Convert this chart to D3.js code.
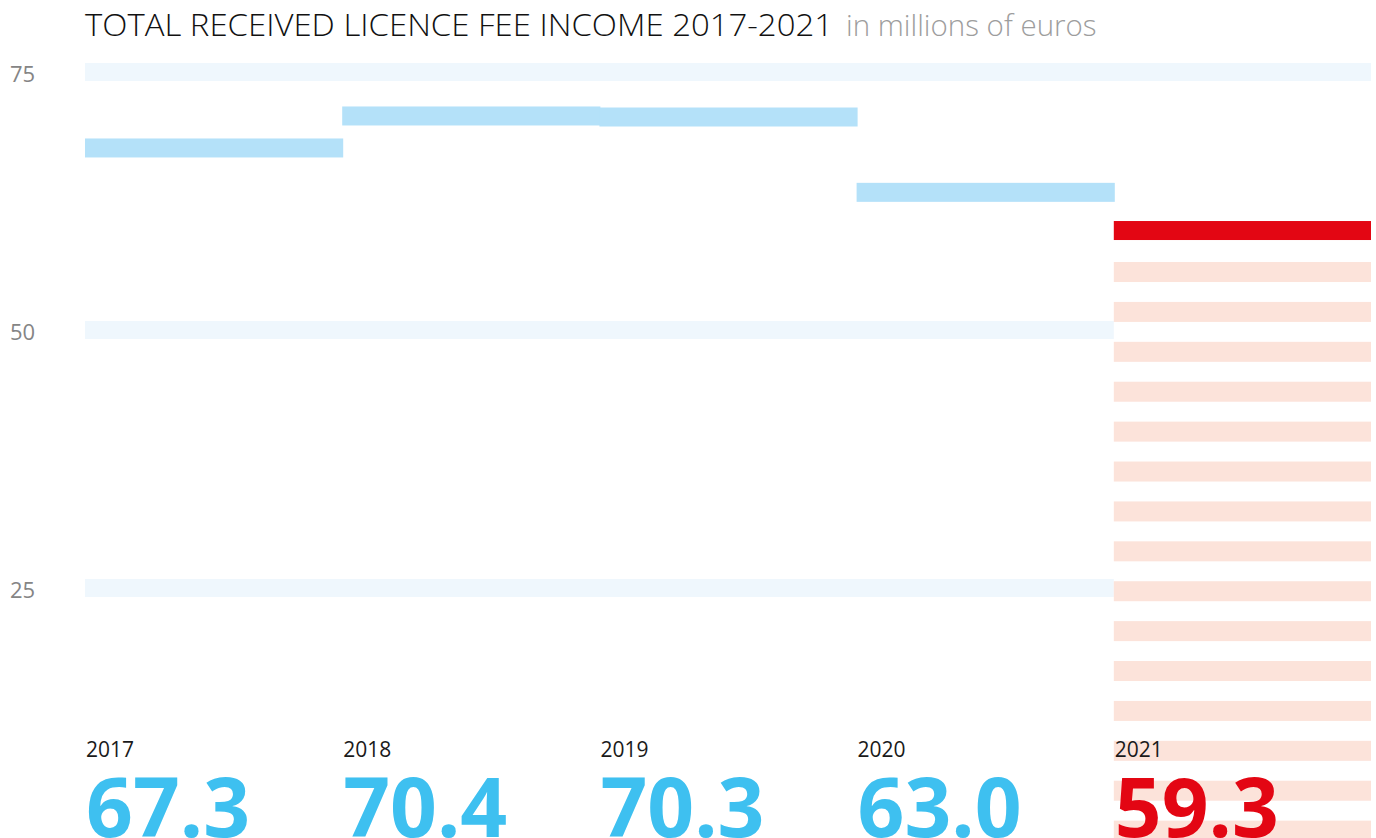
<!DOCTYPE html>
<meta charset="utf-8">
<style>
body {
  margin: 0;
  background-color: #ffffff;
}
svg text {
  font-family: "Open Sans", sans-serif;
}
</style>
<body>
<script src="https://d3js.org/d3.v7.min.js"></script>
<script>
  // data
  var years = ["2017", "2018", "2019", "2020", "2021"];
  var income = [67.3, 70.4, 70.3, 63.0, 59.3];
  var valueLabels = ["67.3", "70.4", "70.3", "63.0", "59.3"];
  var yTicks = [75, 50, 25];

  var width = 1376, height = 838;
  var blue = "#b4e1f9", red = "#e30613";

  var svg = d3.select("body").append("svg")
      .attr("width", width)
      .attr("height", height);

  // scales
  var x = d3.scaleBand()
      .domain(years)
      .range([85, 1371])
      .padding(0);
  var y = d3.scaleLinear()
      .domain([0, 75])
      .range([846, 72]);

  var barH = 19, bandH = 18;
  var last = years[years.length - 1];

  // light gridline bands
  svg.selectAll(".grid")
      .data(yTicks)
    .enter().append("rect")
      .attr("class", "grid")
      .attr("x", x.range()[0])
      .attr("width", x.range()[1] - x.range()[0])
      .attr("y", function(d) { return y(d) - bandH / 2; })
      .attr("height", bandH)
      .attr("fill", "#eff7fd");

  // tick labels
  svg.selectAll(".tick")
      .data(yTicks)
    .enter().append("text")
      .attr("class", "tick")
      .attr("x", 10)
      .attr("y", function(d) { return y(d) + 10; })
      .attr("font-size", 22)
      .attr("fill", "#858585")
      .text(function(d) { return d; });

  // last year column: white background under the bar, striped
  var lastTop = y(income[income.length - 1]) - 3.5 - barH / 2;
  svg.append("rect")
      .attr("x", x(last))
      .attr("width", x.bandwidth())
      .attr("y", lastTop)
      .attr("height", height - lastTop)
      .attr("fill", "#ffffff");
  svg.selectAll(".stripe")
      .data(d3.range(lastTop + 41, height, 39.9))
    .enter().append("rect")
      .attr("class", "stripe")
      .attr("x", x(last))
      .attr("width", x.bandwidth())
      .attr("y", function(d) { return d; })
      .attr("height", 20)
      .attr("fill", "#fce3da");

  // bars
  svg.selectAll(".bar")
      .data(income)
    .enter().append("rect")
      .attr("class", "bar")
      .attr("x", function(d, i) { return x(years[i]); })
      .attr("width", function(d, i) { return i < years.length - 1 ? x.bandwidth() + 1 : x.bandwidth(); })
      .attr("y", function(d) { return y(d) - 3.5 - barH / 2; })
      .attr("height", barH)
      .attr("fill", function(d, i) { return i == years.length - 1 ? red : blue; });

  // year labels
  svg.selectAll(".year")
      .data(years)
    .enter().append("text")
      .attr("class", "year")
      .attr("x", function(d) { return x(d) + 1; })
      .attr("y", 757)
      .attr("font-size", 21)
      .attr("fill", "#1a1a1a")
      .text(function(d) { return d; });

  // big values
  svg.selectAll(".value")
      .data(valueLabels)
    .enter().append("text")
      .attr("class", "value")
      .attr("x", function(d, i) { return x(years[i]) + 1; })
      .attr("y", 837)
      .attr("font-size", 82)
      .attr("font-weight", 700)
      .attr("fill", function(d, i) { return i == years.length - 1 ? red : "#3ec0f0"; })
      .text(function(d) { return d; });

  // title
  svg.append("text")
      .attr("x", 85)
      .attr("y", 36)
      .attr("font-family", "Lato, sans-serif")
      .attr("font-weight", 300)
      .attr("font-size", 31)
      .attr("fill", "#111")
      .attr("textLength", 748)
      .attr("lengthAdjust", "spacingAndGlyphs")
      .text("TOTAL RECEIVED LICENCE FEE INCOME 2017-2021");
  svg.append("text")
      .attr("x", 846)
      .attr("y", 36)
      .attr("font-size", 29.5)
      .attr("font-weight", 300)
      .attr("fill", "#9d9d9d")
      .text("in millions of euros");
</script>
</body>
